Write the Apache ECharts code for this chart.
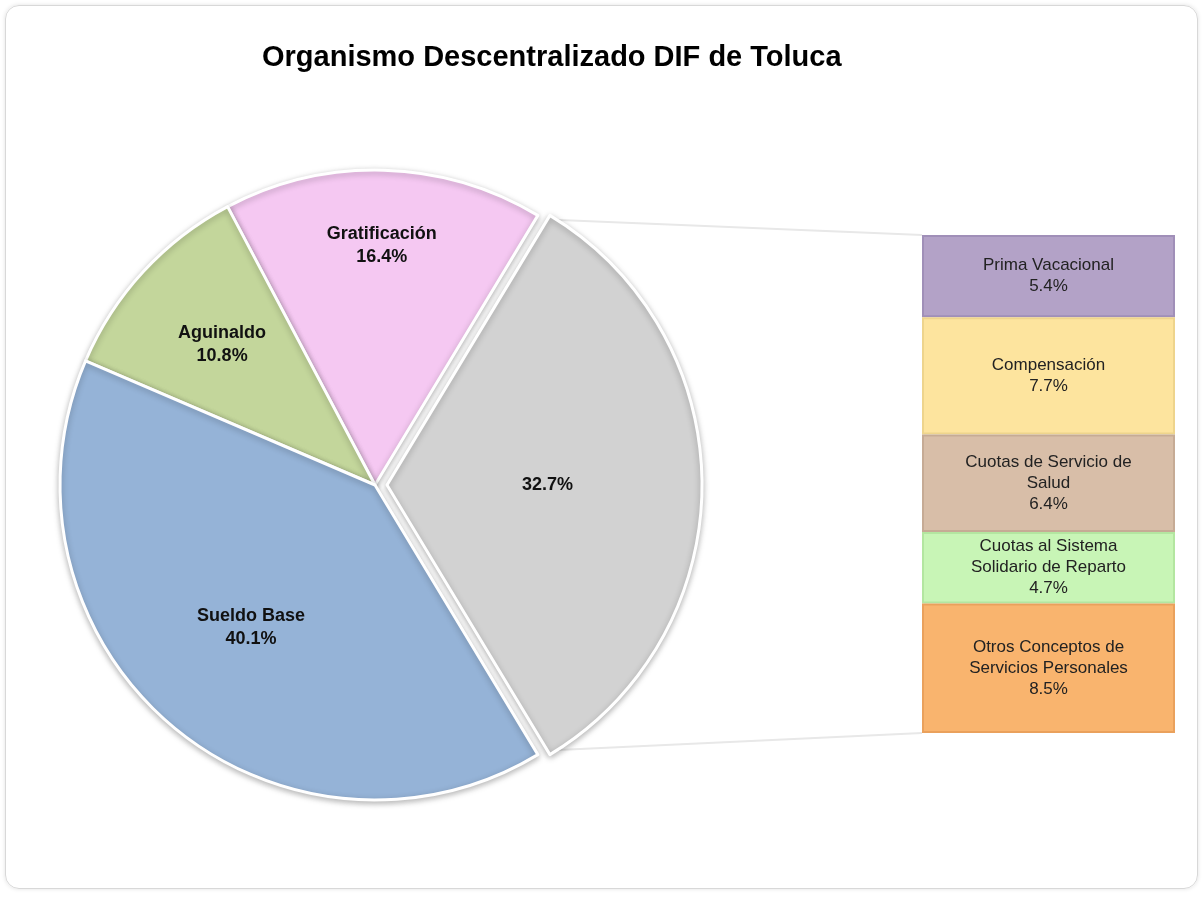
<!DOCTYPE html>
<html>
<head>
<meta charset="utf-8">
<script src="https://cdn.jsdelivr.net/npm/echarts@6/dist/echarts.min.js"></script>
<style>
  html, body { margin: 0; padding: 0; background: #fff; }
  #frame { position: absolute; left: 5px; top: 5px; width: 1191px; height: 882px;
           border: 1px solid #d8d8d8; border-radius: 14px; box-shadow: 0 0 4px rgba(0,0,0,0.12); }
  #chart { position: absolute; left: 0; top: 0; width: 1203px; height: 899px; }
</style>
</head>
<body>
<div id="frame"></div>
<div id="chart"></div>
<script>
// pie: counter-clockwise from the top edge of the "others" slice
const pieNames = ["Gratificación", "Aguinaldo", "Sueldo Base", "Otros"];
const pieValues = [16.4, 10.8, 40.1, 32.7];
const pieColors = ["#f5c8f2", "#c3d69b", "#95b3d7", "#d2d2d2"];

// bar of pie, top to bottom
const barNames = [
  "Prima Vacacional",
  "Compensación",
  "Cuotas de Servicio de\nSalud",
  "Cuotas al Sistema\nSolidario de Reparto",
  "Otros Conceptos de\nServicios Personales"
];
const barValues = [5.4, 7.7, 6.4, 4.7, 8.5];
const barColors = ["#b3a2c7", "#fde49e", "#d8bea8", "#c8f5b6", "#f9b46e"];
const barEdges = ["#a08fb8", "#eed48c", "#c6ab95", "#b3e6a0", "#eaa15c"];

const font = "'Liberation Sans', Arial, sans-serif";
const cx = 375, cy = 485, R = 315, pop = 12;
const total = pieValues.reduce((a, b) => a + b, 0);
const startAngle = 360 * pieValues[3] / total / 2;
// how far out each pie label sits (fraction of radius)
const labelFrac = [0.76, 0.66, 0.6, 0.52];

const chart = echarts.init(document.getElementById("chart"));

function midAngle(i) {
  let acc = 0;
  for (let k = 0; k < i; k++) acc += pieValues[k];
  return startAngle + 360 * (acc + pieValues[i] / 2) / total;
}

const barTop = 235, barLeft = 922, barW = 253, barH = 498;
const a = startAngle * Math.PI / 180;
const ex = cx + pop + R * Math.cos(a);
const eyTop = cy - R * Math.sin(a);
const eyBot = cy + R * Math.sin(a);

const option = {
  animation: false,
  title: {
    text: "Organismo Descentralizado DIF de Toluca",
    left: 257,
    top: 38,
    textStyle: { fontFamily: font, fontSize: 29, fontWeight: "bold", color: "#000" }
  },
  graphic: [
    { type: "line", z: 0, shape: { x1: ex - 2, y1: eyTop + 4, x2: barLeft, y2: barTop },
      style: { stroke: "#e8e8e8", lineWidth: 2 } },
    { type: "line", z: 0, shape: { x1: ex - 2, y1: eyBot - 4, x2: barLeft, y2: barTop + barH },
      style: { stroke: "#e8e8e8", lineWidth: 2 } }
  ],
  grid: { left: barLeft, top: barTop, width: barW, height: barH },
  xAxis: { type: "category", data: ["Otros"], show: false },
  yAxis: { type: "value", min: 0, max: 32.7, inverse: true, show: false },
  series: [
    {
      type: "pie",
      center: [cx, cy],
      radius: R,
      startAngle: startAngle,
      clockwise: false,
      selectedMode: "single",
      selectedOffset: pop,
      emphasis: { disabled: true },
      itemStyle: {
        borderColor: "#fff", borderWidth: 3,
        shadowBlur: 6, shadowColor: "rgba(0,0,0,0.28)", shadowOffsetY: 2
      },
      label: {
        show: true,
        position: "inside",
        fontFamily: font, fontSize: 18, fontWeight: "bold", color: "#111", lineHeight: 23,
        formatter: p => (p.dataIndex === 3 ? "" : p.name + "\n") + p.value.toFixed(1) + "%"
      },
      labelLine: { show: false },
      labelLayout: p => {
        const i = p.dataIndex;
        const m = midAngle(i) * Math.PI / 180;
        const ox = i === 3 ? pop : 0;
        return {
          x: cx + ox + R * labelFrac[i] * Math.cos(m),
          y: cy - R * labelFrac[i] * Math.sin(m),
          align: "center", verticalAlign: "middle"
        };
      },
      data: pieNames.map((n, i) => ({
        name: n, value: pieValues[i], selected: i === 3,
        itemStyle: { color: pieColors[i] }
      }))
    },
    ...barNames.map((n, i) => ({
      type: "bar",
      stack: "otros",
      barWidth: "100%",
      data: [barValues[i]],
      itemStyle: { color: barColors[i], borderColor: barEdges[i], borderWidth: 2 },
      label: {
        show: true, position: "inside",
        fontFamily: font, fontSize: 17, color: "#222", lineHeight: 21,
        formatter: () => n + "\n" + barValues[i].toFixed(1) + "%"
      }
    }))
  ]
};

chart.setOption(option);
</script>
</body>
</html>
